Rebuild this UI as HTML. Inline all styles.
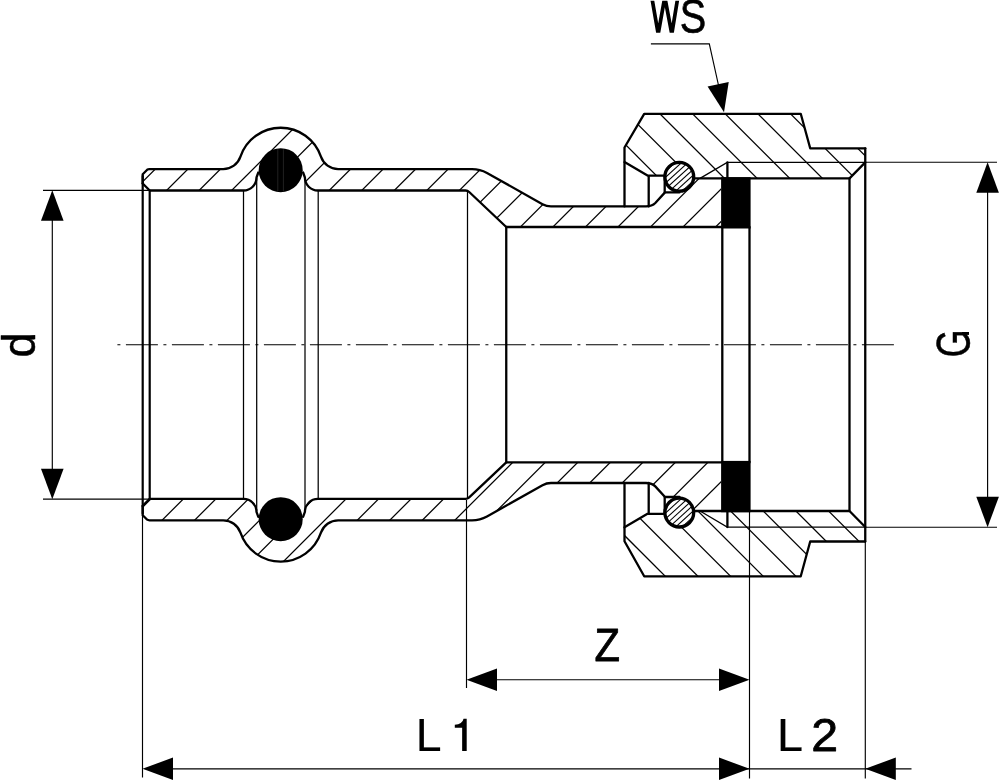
<!DOCTYPE html>
<html><head><meta charset="utf-8"><title>Fitting</title>
<style>html,body{margin:0;padding:0;background:#fff}svg{display:block;will-change:transform}text{font-family:"Liberation Sans",sans-serif;fill:#000}</style></head><body>
<svg width="1000" height="782" viewBox="0 0 1000 782">
<rect width="1000" height="782" fill="#fff"/>
<defs>
<clipPath id="cb"><path d="M142.7,183.5 V174.2 L147.2,169.7 Q148,169.1 149.5,169.1 H223.20 A18.20 18.20 0 0 0 240.46,156.69 A42.45 42.45 0 0 1 320.94,156.69 A18.20 18.20 0 0 0 338.20,169.1 H472 Q480,169.1 487,172.9 L542.5,204.2 Q546.5,206.4 551,206.4 H646 Q651,206.4 654.5,203 L665,193 H681 L695,178.4 H721 V227 H506.25 L467.5,190.5 H317.70 A13 13 0 0 1 304.70,177.5 L280.7,170.2 L256.70,177.5 A13 13 0 0 1 243.70,190.5 H149.7 Z"/><path d="M142.7,183.5 V174.2 L147.2,169.7 Q148,169.1 149.5,169.1 H223.20 A18.20 18.20 0 0 0 240.46,156.69 A42.45 42.45 0 0 1 320.94,156.69 A18.20 18.20 0 0 0 338.20,169.1 H472 Q480,169.1 487,172.9 L542.5,204.2 Q546.5,206.4 551,206.4 H646 Q651,206.4 654.5,203 L665,193 H681 L695,178.4 H721 V227 H506.25 L467.5,190.5 H317.70 A13 13 0 0 1 304.70,177.5 L280.7,170.2 L256.70,177.5 A13 13 0 0 1 243.70,190.5 H149.7 Z" transform="matrix(1 0 0 -1 0 689.40)"/></clipPath>
<clipPath id="cn"><path d="M644.2,113.8 H800.75 L810.2,148.3 H865.25 V162 L849.5,178.4 H695 L679,177 L664.7,175.6 H647.5 L624.5,162.1 V147.5 Z"/><path d="M644.2,576.3 H800.75 L810.2,541.5 H865.25 V527 L849.5,511 H695 L679,512.4 L664.7,513.8 H647.5 L624.5,527.3 V541.2 Z"/></clipPath>
<clipPath id="cr1"><circle cx="679.3" cy="176.8" r="14"/></clipPath>
<clipPath id="cr2"><circle cx="679.3" cy="512.60" r="14"/></clipPath>
<clipPath id="cw"><rect x="640" y="0.8" width="45" height="32"/></clipPath>
</defs>
<g clip-path="url(#cb)" stroke="#000" stroke-width="1.25" fill="none">
<line x1="159.41" y1="100" x2="-340.59" y2="600"/>
<line x1="191.94" y1="100" x2="-308.06" y2="600"/>
<line x1="224.47" y1="100" x2="-275.53" y2="600"/>
<line x1="257.00" y1="100" x2="-243.00" y2="600"/>
<line x1="289.53" y1="100" x2="-210.47" y2="600"/>
<line x1="322.06" y1="100" x2="-177.94" y2="600"/>
<line x1="354.59" y1="100" x2="-145.41" y2="600"/>
<line x1="387.12" y1="100" x2="-112.88" y2="600"/>
<line x1="419.65" y1="100" x2="-80.35" y2="600"/>
<line x1="452.18" y1="100" x2="-47.82" y2="600"/>
<line x1="484.71" y1="100" x2="-15.29" y2="600"/>
<line x1="517.24" y1="100" x2="17.24" y2="600"/>
<line x1="549.77" y1="100" x2="49.77" y2="600"/>
<line x1="582.30" y1="100" x2="82.30" y2="600"/>
<line x1="614.83" y1="100" x2="114.83" y2="600"/>
<line x1="647.36" y1="100" x2="147.36" y2="600"/>
<line x1="679.89" y1="100" x2="179.89" y2="600"/>
<line x1="712.42" y1="100" x2="212.42" y2="600"/>
<line x1="744.95" y1="100" x2="244.95" y2="600"/>
<line x1="777.48" y1="100" x2="277.48" y2="600"/>
<line x1="810.01" y1="100" x2="310.01" y2="600"/>
<line x1="842.54" y1="100" x2="342.54" y2="600"/>
<line x1="875.07" y1="100" x2="375.07" y2="600"/>
<line x1="907.60" y1="100" x2="407.60" y2="600"/>
<line x1="940.13" y1="100" x2="440.13" y2="600"/>
<line x1="972.66" y1="100" x2="472.66" y2="600"/>
<line x1="1005.19" y1="100" x2="505.19" y2="600"/>
<line x1="1037.72" y1="100" x2="537.72" y2="600"/>
<line x1="1070.25" y1="100" x2="570.25" y2="600"/>
<line x1="1102.78" y1="100" x2="602.78" y2="600"/>
<line x1="1135.31" y1="100" x2="635.31" y2="600"/>
<line x1="1167.84" y1="100" x2="667.84" y2="600"/>
<line x1="1200.37" y1="100" x2="700.37" y2="600"/>
<line x1="1232.90" y1="100" x2="732.90" y2="600"/>
<line x1="1265.43" y1="100" x2="765.43" y2="600"/>
<line x1="1297.96" y1="100" x2="797.96" y2="600"/>
<line x1="1330.49" y1="100" x2="830.49" y2="600"/>
<line x1="1363.02" y1="100" x2="863.02" y2="600"/>
<line x1="1395.55" y1="100" x2="895.55" y2="600"/>
<line x1="1428.08" y1="100" x2="928.08" y2="600"/>
<line x1="1460.61" y1="100" x2="960.61" y2="600"/>
<line x1="1493.14" y1="100" x2="993.14" y2="600"/>
<line x1="1525.67" y1="100" x2="1025.67" y2="600"/>
</g>
<g clip-path="url(#cn)" stroke="#000" stroke-width="1.25" fill="none">
<line x1="91.05" y1="100" x2="591.05" y2="600"/>
<line x1="123.70" y1="100" x2="623.70" y2="600"/>
<line x1="156.35" y1="100" x2="656.35" y2="600"/>
<line x1="189.00" y1="100" x2="689.00" y2="600"/>
<line x1="221.65" y1="100" x2="721.65" y2="600"/>
<line x1="254.30" y1="100" x2="754.30" y2="600"/>
<line x1="286.95" y1="100" x2="786.95" y2="600"/>
<line x1="319.60" y1="100" x2="819.60" y2="600"/>
<line x1="352.25" y1="100" x2="852.25" y2="600"/>
<line x1="384.90" y1="100" x2="884.90" y2="600"/>
<line x1="417.55" y1="100" x2="917.55" y2="600"/>
<line x1="450.20" y1="100" x2="950.20" y2="600"/>
<line x1="482.85" y1="100" x2="982.85" y2="600"/>
<line x1="515.50" y1="100" x2="1015.50" y2="600"/>
<line x1="548.15" y1="100" x2="1048.15" y2="600"/>
<line x1="580.80" y1="100" x2="1080.80" y2="600"/>
<line x1="613.45" y1="100" x2="1113.45" y2="600"/>
<line x1="646.10" y1="100" x2="1146.10" y2="600"/>
<line x1="678.75" y1="100" x2="1178.75" y2="600"/>
<line x1="711.40" y1="100" x2="1211.40" y2="600"/>
<line x1="744.05" y1="100" x2="1244.05" y2="600"/>
<line x1="776.70" y1="100" x2="1276.70" y2="600"/>
<line x1="809.35" y1="100" x2="1309.35" y2="600"/>
<line x1="842.00" y1="100" x2="1342.00" y2="600"/>
<line x1="874.65" y1="100" x2="1374.65" y2="600"/>
<line x1="907.30" y1="100" x2="1407.30" y2="600"/>
<line x1="939.95" y1="100" x2="1439.95" y2="600"/>
<line x1="972.60" y1="100" x2="1472.60" y2="600"/>
<line x1="1005.25" y1="100" x2="1505.25" y2="600"/>
<line x1="1037.90" y1="100" x2="1537.90" y2="600"/>
<line x1="1070.55" y1="100" x2="1570.55" y2="600"/>
<line x1="1103.20" y1="100" x2="1603.20" y2="600"/>
<line x1="1135.85" y1="100" x2="1635.85" y2="600"/>
</g>
<g stroke="#000" stroke-width="1.25" fill="none">
<line x1="243.50" y1="190.5" x2="243.50" y2="498.90"/>
<line x1="256.70" y1="178" x2="256.70" y2="511.40"/>
<line x1="305.00" y1="178" x2="305.00" y2="511.40"/>
<line x1="318.20" y1="190.5" x2="318.20" y2="498.90"/>
<line x1="467.5" y1="190.5" x2="467.5" y2="498.90"/>
<path d="M700,178.4 L727.2,162.4 H865"/>
<path d="M700,178.4 L727.2,162.4 H865" transform="matrix(1 0 0 -1 0 689.40)"/>
</g>
<g stroke="#000" stroke-width="2.3" fill="none" stroke-linejoin="round" stroke-linecap="round">
<path d="M142.7,183.5 V174.2 L147.2,169.7 Q148,169.1 149.5,169.1 H223.20 A18.20 18.20 0 0 0 240.46,156.69 A42.45 42.45 0 0 1 320.94,156.69 A18.20 18.20 0 0 0 338.20,169.1 H472 Q480,169.1 487,172.9 L542.5,204.2 Q546.5,206.4 551,206.4 H646 Q652,206.4 655.3,203 L665,192.4 H679.5"/>
<path d="M142.7,183.5 L149.7,190.5 H243.50 A13 13 0 0 0 256.50,177.5 L258.30,172.5 M303.10,172.5 L304.90,177.5 A13 13 0 0 0 317.90,190.5 H465.5 Q467.6,190.5 469.2,192 L506.25,227 H721"/>
<path d="M624.5,206.4 V147.5 L644.2,113.8 H800.75 L810.2,148.3 H865.25"/>
<path d="M695,178.4 H849.5 L865.25,162.4"/>
<path d="M624.5,162.1 L647.5,175.6 H665 M648.7,175.6 V206.4 M664.7,175.6 V192.4"/>
<path d="M727.4,162.4 V178.4"/>
<path d="M142.7,183.5 V174.2 L147.2,169.7 Q148,169.1 149.5,169.1 H223.20 A18.20 18.20 0 0 0 240.46,156.69 A42.45 42.45 0 0 1 320.94,156.69 A18.20 18.20 0 0 0 338.20,169.1 H472 Q480,169.1 487,172.9 L542.5,204.2 Q546.5,206.4 551,206.4 H646 Q652,206.4 655.3,203 L665,192.4 H679.5" transform="matrix(1 0 0 -1 0 689.40)"/>
<path d="M142.7,183.5 L149.7,190.5 H243.50 A13 13 0 0 0 256.50,177.5 L258.30,172.5 M303.10,172.5 L304.90,177.5 A13 13 0 0 0 317.90,190.5 H465.5 Q467.6,190.5 469.2,192 L506.25,227 H721" transform="matrix(1 0 0 -1 0 689.40)"/>
<path d="M624.5,483 V541.2 L644.2,576.3 H800.75 L810.2,541.5 H865.25"/>
<path d="M695,178.4 H849.5 L865.25,162.4" transform="matrix(1 0 0 -1 0 689.40)"/>
<path d="M624.5,162.1 L647.5,175.6 H665 M648.7,175.6 V206.4 M664.7,175.6 V192.4" transform="matrix(1 0 0 -1 0 689.40)"/>
<path d="M727.4,162.4 V178.4" transform="matrix(1 0 0 -1 0 689.40)"/>
<line x1="142.7" y1="176" x2="142.7" y2="513.40" stroke-width="2.2"/>
<line x1="149.7" y1="190.5" x2="149.7" y2="498.90" stroke-width="2.2"/>
<line x1="506.25" y1="227" x2="506.25" y2="462.40"/>
<line x1="722.3" y1="227" x2="722.3" y2="462.40"/>
<line x1="749.5" y1="227" x2="749.5" y2="462.40"/>
<line x1="849.5" y1="178.4" x2="849.5" y2="511.00"/>
<line x1="865.25" y1="148.3" x2="865.25" y2="541.5"/>
</g>
<rect x="721.1" y="177.20" width="29.5" height="51.3" fill="#000"/>
<rect x="721.1" y="460.90" width="29.5" height="51.3" fill="#000"/>
<circle cx="280.7" cy="170.20" r="22.0" fill="#000"/>
<path d="M277.80,149.20 v42 M283.40,149.20 v42" stroke="#383838" stroke-width="0.6" fill="none"/>
<circle cx="280.7" cy="519.20" r="22.0" fill="#000"/>
<circle cx="679.3" cy="176.80" r="14.4" fill="#fff" stroke="none"/>
<g clip-path="url(#cr1)" stroke="#000" stroke-width="1.05">
<line x1="645.04" y1="184.27" x2="705.04" y2="129.67"/>
<line x1="645.04" y1="190.07" x2="705.04" y2="135.47"/>
<line x1="645.04" y1="195.87" x2="705.04" y2="141.27"/>
<line x1="645.04" y1="201.67" x2="705.04" y2="147.07"/>
<line x1="645.04" y1="207.47" x2="705.04" y2="152.87"/>
<line x1="645.04" y1="213.27" x2="705.04" y2="158.67"/>
<line x1="645.04" y1="219.07" x2="705.04" y2="164.47"/>
<line x1="645.04" y1="224.87" x2="705.04" y2="170.27"/>
<line x1="645.04" y1="230.67" x2="705.04" y2="176.07"/>
<line x1="645.04" y1="236.47" x2="705.04" y2="181.87"/>
</g>
<circle cx="679.3" cy="176.80" r="14.4" fill="none" stroke="#000" stroke-width="3.3"/>
<circle cx="679.3" cy="512.60" r="14.4" fill="#fff" stroke="none"/>
<g clip-path="url(#cr2)" stroke="#000" stroke-width="1.05">
<line x1="645.04" y1="520.07" x2="705.04" y2="465.47"/>
<line x1="645.04" y1="525.87" x2="705.04" y2="471.27"/>
<line x1="645.04" y1="531.67" x2="705.04" y2="477.07"/>
<line x1="645.04" y1="537.47" x2="705.04" y2="482.87"/>
<line x1="645.04" y1="543.27" x2="705.04" y2="488.67"/>
<line x1="645.04" y1="549.07" x2="705.04" y2="494.47"/>
<line x1="645.04" y1="554.87" x2="705.04" y2="500.27"/>
<line x1="645.04" y1="560.67" x2="705.04" y2="506.07"/>
<line x1="645.04" y1="566.47" x2="705.04" y2="511.87"/>
<line x1="645.04" y1="572.27" x2="705.04" y2="517.67"/>
</g>
<circle cx="679.3" cy="512.60" r="14.4" fill="none" stroke="#000" stroke-width="3.3"/>
<line x1="117.4" y1="344.7" x2="894" y2="344.7" stroke="#000" stroke-width="1.15" stroke-dasharray="3 5.5 32 5.5"/>
<g stroke="#000" stroke-width="1.15" fill="none">
<line x1="43" y1="190.3" x2="149.7" y2="190.3"/><line x1="43" y1="499.10" x2="149.7" y2="499.10"/>
<line x1="52.3" y1="200" x2="52.3" y2="489.40"/>
<line x1="865" y1="162.2" x2="997" y2="162.2"/><line x1="865" y1="527.20" x2="997" y2="527.20"/>
<line x1="987.6" y1="172" x2="987.6" y2="517.40"/>
<line x1="466.5" y1="500" x2="466.5" y2="688"/>
<line x1="749.5" y1="510" x2="749.5" y2="778.4"/>
<line x1="476" y1="679.7" x2="740" y2="679.7"/>
<line x1="142.5" y1="515" x2="142.5" y2="777.5"/>
<line x1="865.3" y1="541" x2="865.3" y2="778.4"/>
<line x1="152" y1="768.8" x2="911.5" y2="768.8"/>
<path d="M650.9,43.8 H709.3 L720,92"/>
</g>
<polygon points="52.30,190.20 63.60,220.70 41.00,220.70" fill="#000"/>
<polygon points="52.30,499.20 41.00,468.70 63.60,468.70" fill="#000"/>
<polygon points="987.60,162.20 998.90,192.70 976.30,192.70" fill="#000"/>
<polygon points="987.60,527.20 976.30,496.70 998.90,496.70" fill="#000"/>
<polygon points="466.50,679.70 497.00,668.40 497.00,691.00" fill="#000"/>
<polygon points="749.50,679.70 719.00,691.00 719.00,668.40" fill="#000"/>
<polygon points="142.50,768.80 173.00,757.50 173.00,780.10" fill="#000"/>
<polygon points="749.50,768.80 719.00,780.10 719.00,757.50" fill="#000"/>
<polygon points="865.30,768.80 895.80,757.50 895.80,780.10" fill="#000"/>
<polygon points="724.00,112.30 707.59,86.51 728.73,82.10" fill="#000"/>
<g clip-path="url(#cw)"><polyline points="651.4,-5 658.2,34 664.8,-3 671.8,34 678.2,-5" fill="none" stroke="#000" stroke-width="3.7" stroke-linejoin="miter" stroke-miterlimit="10"/></g>
<text font-size="47" stroke="#000" stroke-linejoin="round" stroke-width="0.6" transform="translate(679.70,33.25) scale(0.8426,1.012)">S</text>
<text font-size="47" stroke="#000" stroke-linejoin="round" stroke-width="0.8" transform="translate(594.45,660.55) scale(0.8880,0.9760)">Z</text>
<text font-size="47" stroke="#000" stroke-linejoin="round" stroke-width="0.2" transform="translate(415.75,750.85) scale(0.9869,0.9896)">L</text>
<path d="M466.7,718.75 V750.95 H462.15 V727.85 H454.8 V724.7 Q462.4,724.3 463.55,718.75 Z" fill="#000"/>
<text font-size="47" stroke="#000" stroke-linejoin="round" stroke-width="0.2" transform="translate(777.07,750.85) scale(0.9941,0.9927)">L</text>
<text font-size="47" stroke="#000" stroke-linejoin="round" stroke-width="0.8" transform="translate(811.15,750.55) scale(1.0280,0.9740)">2</text>
<text font-size="47" stroke="#000" stroke-linejoin="round" stroke-width="0.5" transform="translate(34.85,357.45) rotate(-90) scale(0.9605,0.9674)">d</text>
<text font-size="47" stroke="#000" stroke-linejoin="round" stroke-width="0.5" transform="translate(969.58,357.24) rotate(-90) scale(0.7562,1.0097)">G</text>
<rect x="962" y="332.0" width="7.0" height="2.9" fill="#000"/>
</svg></body></html>
